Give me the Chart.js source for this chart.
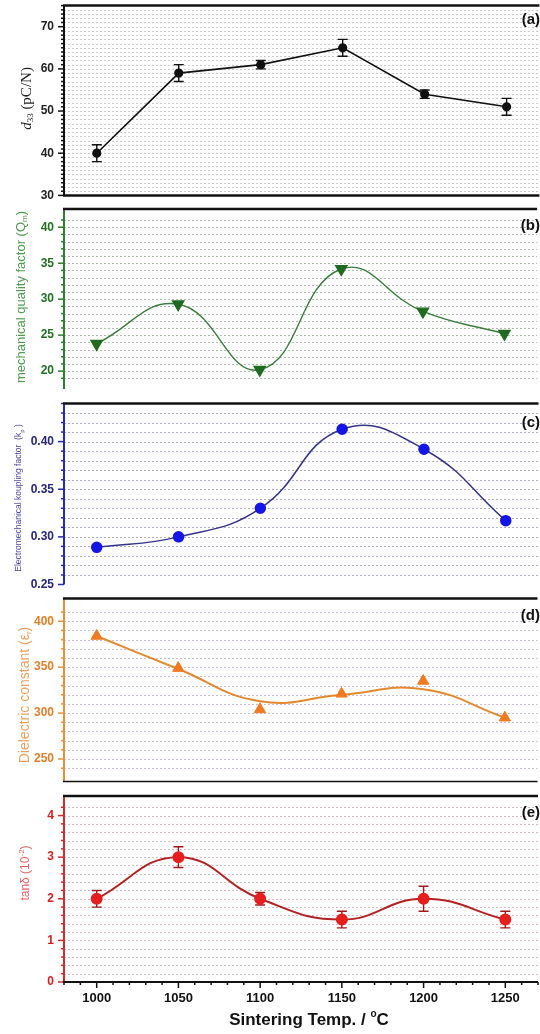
<!DOCTYPE html>
<html>
<head>
<meta charset="utf-8">
<title>Properties vs sintering temperature</title>
<script src="https://cdn.jsdelivr.net/npm/chart.js@4.4.1/dist/chart.umd.min.js"></script>
<style>
  html, body { margin: 0; padding: 0; background: #fff; overflow: hidden; }
  #wrap { position: relative; width: 540px; height: 1034px; overflow: hidden; }
  canvas { position: absolute; left: 0; }
</style>
</head>
<body>
<div id="wrap">
  <canvas id="pa" width="545" height="201" style="top:0px"></canvas>
  <canvas id="pb" width="545" height="196" style="top:201px"></canvas>
  <canvas id="pc" width="545" height="194" style="top:397px"></canvas>
  <canvas id="pd" width="545" height="198" style="top:591px"></canvas>
  <canvas id="pe" width="545" height="245" style="top:789px"></canvas>
</div>
<script>
// values
const temps = [1000, 1050, 1100, 1150, 1200, 1250];
const d33 = [40, 59, 61, 65, 54, 51];
const d33Err = [2, 2, 1, 2, 1, 2];
const qm = [23.8, 29.3, 20.2, 34.2, 28.3, 25.2];
const kp = [0.289, 0.300, 0.330, 0.413, 0.392, 0.317];
const permittivity = [384, 349, 304, 321, 335, 295];
const permittivityFit = [384, 348, 313, 320, 326, 295];
const tanDelta = [2.0, 3.0, 2.0, 1.5, 2.0, 1.5];
const tanDeltaErr = [0.2, 0.25, 0.15, 0.2, 0.3, 0.2];
const panelLetters = ["(a)", "(b)", "(c)", "(d)", "(e)"];

const SANS = '"Liberation Sans", Arial, sans-serif';
const SERIF = '"Liberation Serif", "Times New Roman", serif';
Chart.defaults.font.family = SANS;

function points(values) {
  return temps.map((t, i) => ({ x: t, y: values[i] }));
}

function onStep(v, step) {
  const r = v / step;
  return Math.abs(r - Math.round(r)) < 1e-6;
}

// draw text made of pieces (for sub/superscripts), optionally rotated
function drawRich(ctx, cx, cy, parts, color, rotated) {
  ctx.save();
  ctx.translate(cx, cy);
  if (rotated) ctx.rotate(-Math.PI / 2);
  ctx.fillStyle = color;
  ctx.textBaseline = "middle";
  ctx.textAlign = "left";
  let total = 0;
  parts.forEach((p) => {
    ctx.font = p.font;
    total += ctx.measureText(p.t).width;
  });
  let x = -total / 2;
  parts.forEach((p) => {
    ctx.font = p.font;
    ctx.fillText(p.t, x, p.dy || 0);
    x += ctx.measureText(p.t).width;
  });
  ctx.restore();
}

function makePanel(cfg) {
  const canvas = document.getElementById(cfg.id);

  const framePlugin = {
    id: "frame_" + cfg.id,
    beforeDatasetsDraw(chart) {
      const { ctx, chartArea: a, scales } = chart;
      const y = scales.y;
      const x = scales.x;
      // dotted horizontal grid
      ctx.save();
      ctx.strokeStyle = cfg.gridColor;
      ctx.lineWidth = 1;
      ctx.setLineDash([2, 2]);
      y.ticks.forEach((t) => {
        if (!onStep(t.value, cfg.step)) return;
        const py = Math.round(y.getPixelForValue(t.value)) + 0.5;
        if (py <= a.top + 2 || py >= a.bottom - 2) return;
        ctx.beginPath();
        ctx.moveTo(a.left, py);
        ctx.lineTo(a.right, py);
        ctx.stroke();
      });
      ctx.restore();

      // error bars
      chart.data.datasets.forEach((ds) => {
        if (!ds.errors) return;
        ctx.save();
        ctx.strokeStyle = ds.errorColor;
        ctx.lineWidth = 1.4;
        ds.data.forEach((p, j) => {
          const px = x.getPixelForValue(p.x);
          const hi = y.getPixelForValue(p.y + ds.errors[j]);
          const lo = y.getPixelForValue(p.y - ds.errors[j]);
          ctx.beginPath();
          ctx.moveTo(px, hi);
          ctx.lineTo(px, lo);
          ctx.moveTo(px - 5, hi);
          ctx.lineTo(px + 5, hi);
          ctx.moveTo(px - 5, lo);
          ctx.lineTo(px + 5, lo);
          ctx.stroke();
        });
        ctx.restore();
      });
    },
    afterDraw(chart) {
      const { ctx, chartArea: a, scales } = chart;
      const y = scales.y;
      const x = scales.x;
      ctx.save();

      // left axis with major / minor ticks
      ctx.strokeStyle = cfg.axisColor;
      ctx.lineWidth = 2;
      ctx.beginPath();
      ctx.moveTo(a.left, a.top);
      ctx.lineTo(a.left, a.bottom);
      ctx.stroke();
      ctx.lineWidth = 1.5;
      y.ticks.forEach((t) => {
        if (!onStep(t.value, cfg.step)) return;
        const py = y.getPixelForValue(t.value);
        const len = onStep(t.value, cfg.major) ? 6 : 3;
        ctx.beginPath();
        ctx.moveTo(a.left - len, py);
        ctx.lineTo(a.left, py);
        ctx.stroke();
      });

      // black frame lines
      ctx.strokeStyle = "#111";
      ctx.lineWidth = 2.5;
      ctx.beginPath();
      ctx.moveTo(a.left - 1, a.top);
      ctx.lineTo(a.right, a.top);
      ctx.stroke();
      if (cfg.bottomLine) {
        ctx.lineWidth = cfg.bottomLine;
        ctx.beginPath();
        ctx.moveTo(a.left - 1, a.bottom);
        ctx.lineTo(a.right, a.bottom);
        ctx.stroke();
      }

      // panel letter
      ctx.fillStyle = "#111";
      ctx.font = "bold 15px " + SANS;
      ctx.textAlign = "right";
      ctx.textBaseline = "middle";
      ctx.fillText(cfg.letter, 540, a.top + cfg.letterDy);

      // y axis title
      drawRich(ctx, cfg.titleX, (a.top + a.bottom) / 2 + cfg.titleDy, cfg.title, cfg.titleColor, true);

      if (cfg.bottom) {
        ctx.strokeStyle = "#111";
        ctx.lineWidth = 2;
        ctx.beginPath();
        ctx.moveTo(a.left - 1, a.bottom);
        ctx.lineTo(a.right, a.bottom);
        ctx.stroke();
        ctx.lineWidth = 1.5;
        x.ticks.forEach((t) => {
          if (!onStep(t.value, 10)) return;
          const px = x.getPixelForValue(t.value);
          const len = onStep(t.value, 50) ? 6 : 3;
          ctx.beginPath();
          ctx.moveTo(px, a.bottom);
          ctx.lineTo(px, a.bottom + len);
          ctx.stroke();
        });
        drawRich(ctx, 309, a.bottom + 38, [
          { t: "Sintering Temp. / ", font: "bold 17px " + SANS },
          { t: "o", font: "bold 10px " + SANS, dy: -6 },
          { t: "C", font: "bold 17px " + SANS }
        ], "#111", false);
      }
      ctx.restore();
    }
  };

  const xScale = {
    type: "linear",
    min: 980,
    max: 1270,
    display: !!cfg.bottom,
    grid: { display: false, drawTicks: false },
    border: { display: false },
    ticks: {
      stepSize: 10,
      autoSkip: false,
      maxRotation: 0,
      padding: 9,
      color: "#111",
      font: { size: 13, weight: "bold" },
      callback: (v) => (onStep(v, 50) ? String(v) : "")
    },
    afterFit: (s) => {
      s.height = cfg.bottom ? 52 : 0;
      s.paddingLeft = 0;
      s.paddingRight = 0;
    }
  };

  return new Chart(canvas, {
    type: "line",
    data: { datasets: cfg.datasets },
    options: {
      responsive: false,
      animation: false,
      devicePixelRatio: 1,
      layout: { padding: { top: cfg.padTop, bottom: cfg.padBottom, left: 0, right: 0 } },
      plugins: { legend: { display: false }, tooltip: { enabled: false } },
      scales: {
        x: xScale,
        y: {
          min: cfg.min,
          max: cfg.max,
          grid: { display: false, drawTicks: false },
          border: { display: false },
          ticks: {
            stepSize: cfg.step,
            autoSkip: false,
            padding: 10,
            color: cfg.tickColor,
            font: { size: 12, weight: "bold" },
            callback: (v) => (onStep(v, cfg.major) ? cfg.fmt(v) : "")
          },
          afterFit: (s) => {
            s.width = 64;
            s.paddingTop = 0;
            s.paddingBottom = 0;
          }
        }
      }
    },
    plugins: [framePlugin]
  });
}

const intFmt = (v) => String(Math.round(v));

makePanel({
  id: "pa", padTop: 5, padBottom: 2, min: 30, max: 75, step: 1, major: 10, fmt: intFmt,
  axisColor: "#111", tickColor: "#222", gridColor: "rgba(140,140,140,0.45)",
  letter: panelLetters[0], letterDy: 14, bottomLine: 2.5,
  titleX: 27, titleDy: -2, titleColor: "#222",
  title: [
    { t: "d", font: "italic 15px " + SERIF },
    { t: "33", font: "9px " + SERIF, dy: 4 },
    { t: " (pC/N)", font: "15px " + SERIF }
  ],
  datasets: [{
    data: points(d33), errors: d33Err, errorColor: "#111",
    borderColor: "#111", borderWidth: 1.6, tension: 0,
    pointRadius: 3.8, pointBackgroundColor: "#111", pointBorderColor: "#111"
  }]
});

makePanel({
  id: "pb", padTop: 3, padBottom: 2, min: 17.5, max: 42.55, step: 1, major: 5, fmt: intFmt,
  axisColor: "#2f7f2f", tickColor: "#237023", gridColor: "rgba(110,130,110,0.55)",
  letter: panelLetters[1], letterDy: 17, bottomLine: 0,
  titleX: 21, titleDy: -2, titleColor: "#4f9a4f",
  title: [
    { t: "mechanical quality factor (Q", font: "13px " + SANS },
    { t: "m", font: "8px " + SANS, dy: 4 },
    { t: ")", font: "13px " + SANS }
  ],
  datasets: [{
    data: points(qm),
    borderColor: "#3a7d3a", borderWidth: 1.4, tension: 0.45,
    pointStyle: "triangle", pointRotation: 180, pointRadius: 6.5,
    pointBackgroundColor: "#1f6b1f", pointBorderColor: "#1f6b1f"
  }]
});

makePanel({
  id: "pc", padTop: 2, padBottom: 3, min: 0.25, max: 0.44, step: 0.01, major: 0.05,
  fmt: (v) => v.toFixed(2),
  axisColor: "#2a2ab0", tickColor: "#26267a", gridColor: "rgba(110,110,150,0.55)",
  letter: panelLetters[2], letterDy: 19, bottomLine: 0,
  titleX: 19, titleDy: 4, titleColor: "#4a4aa0",
  title: [
    { t: "Electromechanical koupling factor  (k", font: "8.5px " + SANS },
    { t: "p", font: "6px " + SANS, dy: 3 },
    { t: " )", font: "8.5px " + SANS }
  ],
  datasets: [{
    data: points(kp),
    borderColor: "#33338a", borderWidth: 1.5, tension: 0.45,
    pointRadius: 5, pointBackgroundColor: "#1515e6", pointBorderColor: "#1515e6"
  }]
});

makePanel({
  id: "pd", padTop: 3, padBottom: 3, min: 225.5, max: 424.8, step: 10, major: 50, fmt: intFmt,
  axisColor: "#e8903a", tickColor: "#e07f2a", gridColor: "rgba(150,120,170,0.5)",
  letter: panelLetters[3], letterDy: 17, bottomLine: 1.5,
  titleX: 25, titleDy: 5, titleColor: "#e9a060",
  title: [
    { t: "Dielectric constant (\u03b5", font: "14px " + SANS },
    { t: "r", font: "8px " + SANS, dy: 4 },
    { t: ")", font: "14px " + SANS }
  ],
  datasets: [
    {
      data: points(permittivity), showLine: false,
      pointStyle: "triangle", pointRadius: 6.5,
      pointBackgroundColor: "#f07a20", pointBorderColor: "#f07a20"
    },
    {
      data: points(permittivityFit),
      borderColor: "#e2892f", borderWidth: 2, tension: 0.45, pointRadius: 0
    }
  ]
});

makePanel({
  id: "pe", bottom: true, padTop: 2, padBottom: 0, min: 0, max: 4.47, step: 0.2, major: 1, fmt: intFmt,
  axisColor: "#d42a2a", tickColor: "#d42020", gridColor: "rgba(170,120,130,0.5)",
  letter: panelLetters[4], letterDy: 17, bottomLine: 0,
  titleX: 26, titleDy: -16, titleColor: "#e06060",
  title: [
    { t: "tan\u03b4 (10", font: "12px " + SANS },
    { t: "-2", font: "8px " + SANS, dy: -4 },
    { t: ")", font: "12px " + SANS }
  ],
  datasets: [{
    data: points(tanDelta), errors: tanDeltaErr, errorColor: "#a01818",
    borderColor: "#b22222", borderWidth: 2, tension: 0.45,
    pointRadius: 5, pointBackgroundColor: "#e61e1e", pointBorderColor: "#e61e1e"
  }]
});
</script>
</body>
</html>
